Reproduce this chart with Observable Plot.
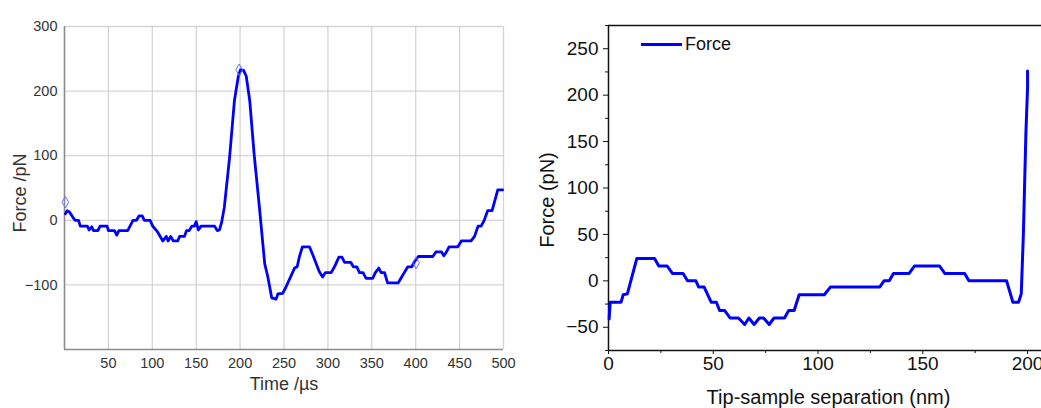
<!DOCTYPE html>
<html>
<head>
<meta charset="utf-8">
<script src="https://cdn.jsdelivr.net/npm/d3@7"></script>
<script src="https://cdn.jsdelivr.net/npm/@observablehq/plot@0.6"></script>
<style>
  html, body { margin: 0; padding: 0; background: #fff; overflow: hidden; }
  #wrap { position: relative; width: 1041px; height: 408px; overflow: hidden; font-family: "Liberation Sans", Arial, sans-serif; }
  #left { position: absolute; left: 0; top: 0; width: 520px; height: 408px; }
  #right { position: absolute; left: 520px; top: 0; width: 540px; height: 408px; }
  #left svg, #right svg { max-width: none !important; }
  #legend { position: absolute; left: 641px; top: 34px; display: flex; align-items: center; font-size: 18px; color: #111; }
  #legend .sw { width: 41px; height: 3px; background: #0000ff; margin-right: 3px; }
</style>
</head>
<body>
<div id="wrap">
  <div id="left"></div>
  <div id="right"></div>
  <div id="legend"><span class="sw"></span><span>Force</span></div>
</div>
<script>
// ---- Left panel: Force vs time ----
const leftT = [1, 3, 5.6, 9.4, 12, 16, 18, 26, 28, 31, 33, 38, 40.5, 48.5, 50, 57, 59.5, 62, 72, 78, 82, 85, 88.5, 91, 97.5, 100.5, 106, 112, 116, 118, 121, 124, 129, 131, 136.5, 139, 142, 145, 148, 150, 152.5, 155.5, 171, 174, 176.5, 179, 182, 188, 193.5, 198, 200.5, 204, 207, 211, 216, 222, 228, 231.5, 236, 241, 243, 248.5, 252, 258, 262, 265, 267.6, 271, 279, 283, 286.6, 290, 294, 297, 303.7, 307.5, 312.5, 316, 319, 326, 329, 333, 336, 340, 343.5, 351, 354, 358, 360.6, 364.5, 368, 380, 383, 387, 391, 395.5, 398.5, 403, 419.5, 423, 429.5, 432, 435, 438, 448, 452, 463, 467, 471, 474.5, 478, 482, 487, 493.5, 499];
const leftF = [10, 15, 13, 5, 0, 0, -9, -9, -15, -10, -16, -16, -9, -9, -16, -16, -23, -16, -16, 0, 0, 7, 7, 0, 0, -9, -18, -32, -25, -32, -25, -32, -32, -25, -25, -16, -16, -9, -9, -2, -15, -9, -9, -16, -15, -3, 20, 97, 185, 223, 233, 232, 223, 185, 102, 20, -67, -87, -120, -122, -114, -113, -104, -86, -74, -72, -56, -41, -41, -54, -67, -79, -88, -81, -81, -72, -57, -57, -65, -65, -72, -72, -81, -81, -90, -90, -81, -74, -81, -81, -97, -97, -90, -81, -72, -72, -64, -56, -56, -49, -49, -55, -49, -41, -41, -32, -32, -25, -9, -9, 0, 15, 15, 47, 47];
const markT = [1, 199, 400.5];
const markF = [28, 233, -66];
const leftXTicks = [50, 100, 150, 200, 250, 300, 350, 400, 450, 500];
const leftYTicks = [-100, 0, 100, 200, 300];

// ---- Right panel: Force vs tip-sample separation ----
const rightD = [0.3, 0.8, 6, 7, 9, 13.5, 22, 24, 28, 30.5, 35.6, 37.7, 41.7, 43, 45.6, 49, 51.5, 53, 55.5, 58, 62, 65, 67, 69.5, 72, 74, 76.7, 79, 84, 86, 88.6, 91, 103, 106, 129.5, 131.5, 134, 136, 143.5, 146, 158, 160.5, 170, 172, 190, 193, 195.7, 197, 198, 199.2, 200, 200];
const rightF = [-41, -23, -23, -15, -14, 24, 24, 16, 16, 8, 8, 0, 0, -6.5, -6.5, -23, -23, -32, -32, -40, -40, -47, -40, -47, -40, -40, -47, -40, -40, -32, -32, -15, -15, -6.5, -6.5, 0, 0, 8, 8, 16, 16, 8, 8, 0, 0, -23, -23, -14, 50, 158, 208, 226];
const rightXTicks = [0, 50, 100, 150, 200];
const rightXMinor = [25, 75, 125, 175];
const rightYTicks = [-50, 0, 50, 100, 150, 200, 250];
const rightYMinor = [-75, -25, 25, 75, 125, 175, 225, 275];

const leftData = leftT.map((t, i) => ({t, f: leftF[i]}));
const markData = markT.map((t, i) => ({t, f: markF[i]}));
const rightData = rightD.map((d, i) => ({d, f: rightF[i]}));

const font = "'Liberation Sans', Arial, sans-serif";

const left = Plot.plot({
  width: 520, height: 408,
  marginLeft: 64, marginRight: 17, marginTop: 26, marginBottom: 59,
  style: {fontFamily: font, background: "transparent", color: "#333", maxWidth: "none"},
  x: {domain: [0, 500]},
  y: {domain: [-200, 300]},
  marks: [
    Plot.gridX({ticks: leftXTicks, stroke: "#d4d4d4", strokeOpacity: 1, strokeWidth: 1.3}),
    Plot.gridY({ticks: leftYTicks, stroke: "#d4d4d4", strokeOpacity: 1, strokeWidth: 1.3}),
    Plot.ruleX([0], {stroke: "#8c8c8c", strokeWidth: 1.6}),
    Plot.ruleY([-200], {stroke: "#8c8c8c", strokeWidth: 1.6}),
    Plot.axisX({ticks: leftXTicks, tickSize: 0, tickPadding: 8, fontSize: 14.5, label: null}),
    Plot.axisY({ticks: leftYTicks, tickSize: 0, tickPadding: 7, fontSize: 14.5, label: null}),
    Plot.line(leftData, {x: "t", y: "f", stroke: "#0000ff", strokeWidth: 2.8, strokeLinejoin: "round"}),
    Plot.dot(markData, {x: "t", y: "f", symbol: "diamond", r: 3.5, stroke: "#6b6bff", strokeWidth: 1, fill: "none"}),
    Plot.text(["Force /pN"], {frameAnchor: "left", textAnchor: "middle", lineAnchor: "middle", rotate: -90, dx: -44, dy: 5, fontSize: 18, fill: "#333"}),
    Plot.text(["Time /µs"], {frameAnchor: "bottom", textAnchor: "middle", lineAnchor: "middle", dy: 35, fontSize: 18, fill: "#333"})
  ]
});
document.getElementById("left").appendChild(left);

const right = Plot.plot({
  width: 540, height: 408,
  marginLeft: 88, marginRight: 12, marginTop: 25, marginBottom: 58,
  style: {fontFamily: font, background: "transparent", color: "#111", maxWidth: "none"},
  x: {domain: [0, 210]},
  y: {domain: [-75, 275]},
  marks: [
    Plot.ruleY([275], {stroke: "#111", strokeWidth: 1.5}),
    Plot.ruleX([0], {stroke: "#111", strokeWidth: 1.5}),
    Plot.ruleY([-75], {stroke: "#111", strokeWidth: 1.5}),
    Plot.axisX({ticks: rightXTicks, tickSize: 4, tickPadding: 2, fontSize: 19, label: null, stroke: "#111"}),
    Plot.axisX({ticks: rightXMinor, tickSize: 3, tickFormat: () => "", label: null, stroke: "#111"}),
    Plot.axisY({ticks: rightYTicks, tickSize: 5, tickPadding: 5, fontSize: 19, label: null, stroke: "#111"}),
    Plot.axisY({ticks: rightYMinor, tickSize: 3, tickFormat: () => "", label: null, stroke: "#111"}),
    Plot.line(rightData, {x: "d", y: "f", stroke: "#0000ff", strokeWidth: 3, strokeLinejoin: "round"}),
    Plot.text(["Force (pN)"], {frameAnchor: "left", textAnchor: "middle", lineAnchor: "middle", rotate: -90, dx: -61, dy: 12, fontSize: 20, fill: "#111"}),
    Plot.text(["Tip-sample separation (nm)"], {frameAnchor: "bottom", textAnchor: "middle", lineAnchor: "middle", dy: 47, fontSize: 20, fill: "#111"})
  ]
});
document.getElementById("right").appendChild(right);
</script>
</body>
</html>
